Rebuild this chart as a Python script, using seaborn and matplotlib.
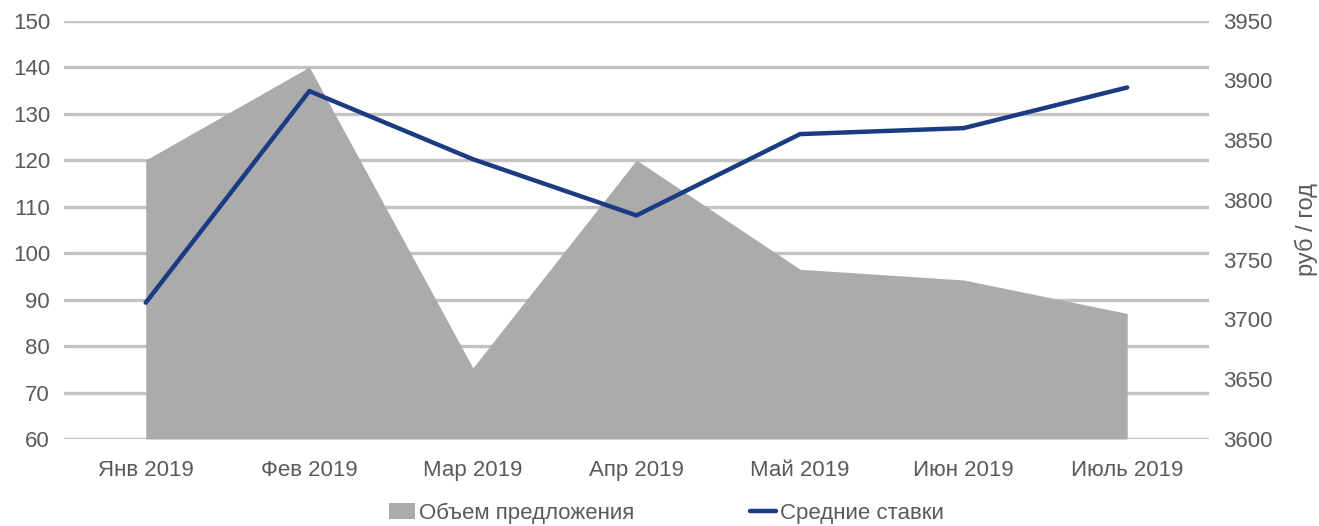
import matplotlib
matplotlib.use('Agg')
import matplotlib.pyplot as plt
import seaborn as sns
import pandas as pd
from matplotlib.patches import Patch
from matplotlib.lines import Line2D

# Data
months = ['Янв 2019', 'Фев 2019', 'Мар 2019', 'Апр 2019', 'Май 2019', 'Июн 2019', 'Июль 2019']
volume = [120, 140, 75.3, 120, 96.5, 94.2, 87]           # Объем предложения (left axis)
rates = [3714, 3891, 3834, 3787, 3855, 3860, 3894]        # Средние ставки, руб / год (right axis)

area_color = '#ababab'
line_color = '#1b3b82'
grid_color = '#c3c3c3'
text_color = '#5a5a5a'

sns.set_theme(style='white')
plt.rcParams['font.family'] = ['Liberation Sans', 'DejaVu Sans']

df = pd.DataFrame({'month': months, 'x': range(len(months)), 'volume': volume, 'rate': rates})

fig = plt.figure(figsize=(13.19, 5.26), dpi=100)
ax = fig.add_axes([0.0485, 0.1654, 0.8681, 0.7956])

# grid first, area on top
ax.set_ylim(60, 150)
ax.set_yticks(range(60, 151, 10))
ax.yaxis.grid(True, color=grid_color, lw=2.4, zorder=0)
ax.set_axisbelow(True)

ax.fill_between(df['x'], 60, df['volume'], color=area_color, lw=0, zorder=2)
sns.lineplot(data=df, x='x', y='volume', ax=ax, color=area_color, lw=0, zorder=2)

ax.set_xlim(-0.5, 6.5)
ax.set_xticks(df['x'])
ax.set_xticklabels(months)
ax.set_xlabel('')
ax.set_ylabel('')
ax.tick_params(axis='x', length=0, pad=15, labelsize=16, colors=text_color)
ax.tick_params(axis='y', length=0, pad=10, labelsize=16, colors=text_color)
for s in ax.spines.values():
    s.set_visible(False)

ax2 = ax.twinx()
sns.lineplot(data=df, x='x', y='rate', ax=ax2, color=line_color, lw=3.2, zorder=5)
ax2.set_ylim(3600, 3950)
ax2.set_yticks(range(3600, 3951, 50))
ax2.set_xlim(-0.5, 6.5)
ax2.grid(False)
ax2.set_xlabel('')
ax2.set_ylabel('руб / год', fontsize=17, color=text_color, labelpad=16)
ax2.tick_params(axis='y', length=0, pad=10, labelsize=16, colors=text_color)
for s in ax2.spines.values():
    s.set_visible(False)

handles = [Patch(facecolor=area_color, edgecolor='none'),
           Line2D([0], [0], color=line_color, lw=3.2)]
fig.legend(handles, ['Объем предложения', 'Средние ставки'],
           loc='center', bbox_to_anchor=(0.505, 0.024), ncol=2, frameon=False,
           fontsize=16, labelcolor=text_color, handlelength=1.2, handletextpad=0.15,
           columnspacing=5.2)

fig.savefig('out.png', dpi=100)
